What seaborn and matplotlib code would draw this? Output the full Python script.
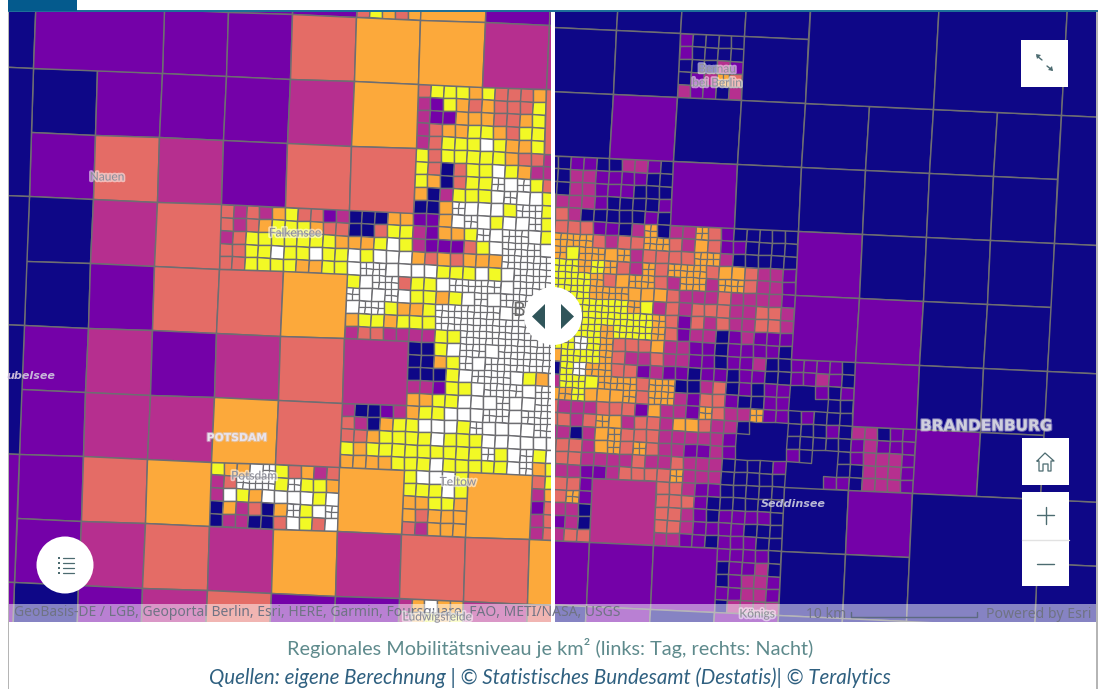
import numpy as np
import matplotlib
matplotlib.use("Agg")
import matplotlib.pyplot as plt
import matplotlib.patheffects as pe
from matplotlib.colors import ListedColormap, to_rgba
from matplotlib.patches import Rectangle, Circle, Polygon
from matplotlib.transforms import Affine2D
import seaborn as sns

# ---------- colour classes (mobility level, low to high) ----------
CLASSES = "npmsoyw"
CLASS_COLOURS = ["#0e0787", "#7401a8", "#b62f8f", "#e46c66", "#fca93b", "#f2f925", "#ffffff"]
GRID = "#6e6e72"

# ---------- left panel (day) ----------
# rows v=-3..7, columns u=-2..8; '.' = split into 5x5, '_' = inside a double cell
LEFT_COARSE = [
    "____ppp.opp",
    "____ppsoomm",
    "__npppmo..s",
    "__psmpss...",
    "__nms......",
    "__npsso....",
    "__pmpmsm...",
    "__pmmos....",
    "__pso..o.o.",
    "__pmsmomsso",
    "__npmspp.ms",
]
LEFT_DOUBLE_U = [-2, -2, -2, -2, -2, -2, 0]
LEFT_DOUBLE_V = [-3, -1, 1, 3, 5, 7, -3]
LEFT_DOUBLE_C = ["n", "n", "n", "n", "p", "p", "p"]
LEFT_FINE = {
    (5, -3): ["ooooo", "ooooo", "ooooo", "ooooo", "syoso"],
    (6, -1): ["syyyo", "mpyos", "mppoo", "msooy", "msyyy"],
    (7, -1): ["yssso", "osssy", "ossoy", "yosyy", "wyooy"],
    (8, -1): ["sssss", "sssss", "sssss", "sssss", "sssss"],
    (6, 0): ["ysyyy", "ysnsy", "yonsy", "onmyy", "nnoWw"],
    (7, 0): ["yyoss", "ywyom", "yWwWy", "ywWww", "wwyWW"],
    (8, 0): ["mmmmm", "mmmmm", "sssss", "yyyyy", "yyyyy"],
    (3, 1): ["smsmo", "smsoy", "msyyy", "ssyyw", "ssyyy"],
    (4, 1): ["ysspm", "yyoss", "yyyyo", "yywyy", "yooyy"],
    (5, 1): ["nnnoo", "nnsyy", "ooywy", "wywww", "wWWww"],
    (6, 1): ["ppowW", "mpooy", "mppps", "ososo", "wwyyy"],
    (7, 1): ["wywwW", "WwWWw", "ywWWW", "ooWWW", "wywWW"],
    (8, 1): ["yyyyy", "yyyyy", "wwwww", "WWWWW", "WWWWW"],
    (5, 2): ["ywWWs", "WwwWw", "wWWyo", "oyyoy", "mssmm"],
    (6, 2): ["yywWW", "yyoyw", "oyWWW", "yyWWW", "mmyyW"],
    (7, 2): ["WWwWW", "WwWWW", "WWwWw", "WWWWW", "WWWWW"],
    (8, 2): ["WWWWW", "WWWWW", "WWWWW", "WWWWW", "WWWWW"],
    (6, 3): ["nnywW", "nnoyW", "nnnyw", "mmpyy", "ooyyw"],
    (7, 3): ["WwWWW", "wWWWW", "WWWwy", "wWWWw", "wwWww"],
    (8, 3): ["WWWWW", "WWWWW", "owwww", "WWWWW", "WWWWW"],
    (5, 4): ["mnnpm", "smnoy", "ssoyy", "yoyyy", "ooooy"],
    (6, 4): ["oyyww", "ywwwy", "yywyy", "yyyyy", "yywyy"],
    (7, 4): ["wWWwW", "Wwwww", "ywwww", "yWywW", "yyywW"],
    (8, 4): ["WWWWW", "WWWWW", "wwwww", "ywwww", "oyyyy"],
    (3, 5): ["yoowW", "msWWW", "mwyow", "nomsn", "nmmnn"],
    (4, 5): ["ysoms", "yWyyo", "wwwyw", "oWywW", "swysw"],
    (6, 5): ["ywwwy", "yyywy", "ooyyo", "osooo", "smooo"],
    (8, 5): ["syyyy", "moooo", "pssss", "mssss", "mssss"],
    (6, 7): ["mowoo", "moyoy", "mmmmm", "mmmmm", "mmmmm"],
}

# ---------- right panel (night) ----------
# rows v=-4..6, columns u=-2..7
RIGHT_COARSE = [
    "nnnn______",
    "nn.n______",
    "npnnnnnn__",
    "..pnnnnn__",
    "....pnnn__",
    "....ppnn__",
    ".....pnn__",
    "......pn__",
    ".m..np__nn",
    "ppp.nn__nn",
    "npnpnnnnnn",
]
RIGHT_DOUBLE_U = [2, 4, 6, 6, 6, 6, 4]
RIGHT_DOUBLE_V = [-4, -4, -4, -2, 0, 2, 4]
RIGHT_DOUBLE_C = ["n", "n", "n", "n", "n", "n", "n"]
# a blank marks an area with no inner lines
RIGHT_FINE = {
    (0, -3): ["pnnnn", "pnnnn", "nnnmp", "npmOs", "mppnm"],
    (-2, -1): ["nnppn", "nnmmp", "nnmmp", "mmmmp", "ssmnn"],
    (-1, -1): ["nmmpn", "pppnn", "ppnnn", "nnnnp", "nnnpn"],
    (-2, 0): ["ssssp", "OOOOs", "OOyOO", "YYYOY", "YYYYO"],
    (-1, 0): ["pnmOn", "mssOO", "oOmss", "OsmOs", "soOOs"],
    (0, 0): ["mmOsp", "smosp", "ssOOm", "OOOso", "mOOmO"],
    (1, 0): ["nnnnn", "pnnnn", "nnnnn", "osmmp", "Osmmp"],
    (-2, 1): ["YYYYO", "YYYYY", "YYYYY", "YYYYY", "YYYWY"],
    (-1, 1): ["OOooo", "YYOym", "YYYYO", "OYYYO", "Ossso"],
    (0, 1): ["smmms", "smsss", "spsms", "spmmn", "mmppn"],
    (1, 1): ["mmmmp", "mmssm", "mmssm", "pmppp", "ppppn"],
    (-2, 2): ["ooYYY", "nnYWO", "mmYYy", "ooOYo", "ssmmm"],
    (-1, 2): ["Osmms", "Osspm", "OOOsO", "ooOsO", "ssspo"],
    (0, 2): ["mmppn", "ppnpp", "Onnms", "Ompss", "mmpOs"],
    (1, 2): ["ppmnn", "nppnn", "npnpp", "pnnpp", "mmOpp"],
    (2, 2): ["ppppn", "ppmpn", "  pnp", "   nn", "npnnn"],
    (-2, 3): ["sssms", "mmmnm", "ssssm", "ssssm", "mmmmp"],
    (-1, 3): ["Oomss", "oOsss", "oOsOs", "mmmsm", "pmsss"],
    (0, 3): ["moosm", "mmmmm", "mmppm", "msmmm", "sOmmm"],
    (1, 3): ["mn   ", "p    ", "p    ", "nnnnp", "nnnnn"],
    (2, 3): ["nnnpn", "nnnnn", "pn  n", "    n", "   pp"],
    (3, 3): ["mmnpp", "pmppp", "pmmmp", "nmmmp", "nmmmp"],
    (-2, 4): ["ssssp", "sssOp", "mmmmn", "pppmn", "mmmss"],
    (0, 4): ["ssmpp", "ssspn", "ssmpn", "ssmpp", "mmppn"],
    (1, 4): ["nnnnn", "nnnnn", "ppppn", "ppnnn", "pppnn"],
    (1, 5): ["ppppn", "nppmn", "npmmp", "ppmmp", "nmmmm"],
}

# ---------- texts ----------
CAPTION = "Regionales Mobilitätsniveau je km² (links: Tag, rechts: Nacht)"
SOURCE = "Quellen: eigene Berechnung | © Statistisches Bundesamt (Destatis)| © Teralytics"
ATTRIBUTION = "GeoBasis-DE / LGB, Geoportal Berlin, Esri, HERE, Garmin, Foursquare, FAO, METI/NASA, USGS"
PLACE_NAMES = ["Nauen", "Falkensee", "Potsdam", "Teltow", "Ludwigsfelde", "Königs"]
PLACE_X = [107, 295, 254, 458, 437, 757]
PLACE_Y = [177, 233, 476, 482, 617, 614]

sns.set_theme(style="white")
plt.rcParams["font.family"] = ["Lato", "DejaVu Sans"]
NOTO = ["Noto Sans", "DejaVu Sans"]
DEJA = ["DejaVu Sans"]

W, H = 1101, 689
fig = plt.figure(figsize=(W / 100, H / 100), dpi=100, facecolor="white")
cmap = ListedColormap(CLASS_COLOURS)
cmap.set_bad((0, 0, 0, 0))
code = {c: i for i, c in enumerate(CLASSES)}


def level(ax, data, cell, u0, v0, origin, e1, e2, lw):
    """Draw one quadtree level as a seaborn heatmap, tilted to the map's grid."""
    mask = np.isnan(data)
    sns.heatmap(data, mask=mask, cmap=cmap, vmin=-0.5, vmax=6.5, cbar=False,
                xticklabels=False, yticklabels=False, linewidths=lw,
                linecolor=GRID, antialiased=True, ax=ax)
    mesh = ax.collections[-1]
    edges = np.tile(to_rgba(GRID), (data.size, 1))
    edges[mask.ravel(), 3] = 0
    mesh.set_edgecolor(edges)
    a, b = e1[0] * cell, e1[1] * cell
    c, d = e2[0] * cell, e2[1] * cell
    e = origin[0] + u0 * e1[0] + v0 * e2[0]
    f = origin[1] + u0 * e1[1] + v0 * e2[1]
    mesh.set_transform(Affine2D.from_values(a, b, c, d, e, f) + ax.transData)


def panel(rect_px, coarse, u0, v0, fine, du, dv, dc, origin, e1, e2):
    x0, y0, x1, y1 = rect_px
    ax = fig.add_axes([x0 / W, 1 - y1 / H, (x1 - x0) / W, (y1 - y0) / H])
    rows, cols = len(coarse), len(coarse[0])
    lv0 = np.full((rows, cols), np.nan)
    lv1 = np.full((rows * 5, cols * 5), np.nan)
    lv2 = np.full((rows * 10, cols * 10), np.nan)
    for j, row in enumerate(coarse):
        for i, ch in enumerate(row):
            if ch in code:
                lv0[j, i] = code[ch]
    for (u, v), block in fine.items():
        i, j = u - u0, v - v0
        for r, row in enumerate(block):
            for q, ch in enumerate(row):
                if ch == " ":
                    continue
                if ch.isupper():
                    lv2[(j * 5 + r) * 2:(j * 5 + r) * 2 + 2,
                        (i * 5 + q) * 2:(i * 5 + q) * 2 + 2] = code[ch.lower()]
                else:
                    lv1[j * 5 + r, i * 5 + q] = code[ch]
    xu0, xv0 = min(du), min(dv)
    xl = np.full(((max(dv) - xv0) // 2 + 1, (max(du) - xu0) // 2 + 1), np.nan)
    for u, v, c in zip(du, dv, dc):
        xl[(v - xv0) // 2, (u - xu0) // 2] = code[c]
    ax.add_patch(Rectangle((0, 0), 1, 1, transform=ax.transAxes, color=CLASS_COLOURS[0], lw=0, zorder=0))
    level(ax, lv2, 0.1, u0, v0, origin, e1, e2, 0.85)
    level(ax, lv1, 0.2, u0, v0, origin, e1, e2, 1.0)
    level(ax, lv0, 1.0, u0, v0, origin, e1, e2, 1.05)
    level(ax, xl, 2.0, xu0, xv0, origin, e1, e2, 1.05)
    ax.set_xlim(x0, x1)
    ax.set_ylim(y1, y0)
    ax.set_axis_off()
    return ax


panel((9, 12, 551, 622), LEFT_COARSE, -2, -3, LEFT_FINE,
      LEFT_DOUBLE_U, LEFT_DOUBLE_V, LEFT_DOUBLE_C, (31, 132), (64.1, 2.7), (-2.4, 64.3))
panel((555, 12, 1096, 622), RIGHT_COARSE, -2, -4, RIGHT_FINE,
      RIGHT_DOUBLE_U, RIGHT_DOUBLE_V, RIGHT_DOUBLE_C, (670, 225), (64.0, 3.0), (-3.4, 64.0))

# ---------- overlay in pixel coordinates ----------
ov = fig.add_axes([0, 0, 1, 1], facecolor="none", zorder=5)
ov.set_xlim(0, W)
ov.set_ylim(H, 0)
ov.set_axis_off()

# frame, top rule and tab
ov.add_patch(Rectangle((7.5, 12), 1.5, H - 12, color="#b5b5b5", lw=0))
ov.add_patch(Rectangle((1096, 12), 1.5, H - 12, color="#b5b5b5", lw=0))
ov.add_patch(Rectangle((8, 9.5), 1090, 2.2, color="#1d6f98", lw=0))
ov.add_patch(Rectangle((8, 0), 69, 11, color="#045a8d", lw=0))

# attribution band
ov.add_patch(Rectangle((9, 604), 1087, 18, color="white", alpha=0.5, lw=0))
ov.text(14, 613, ATTRIBUTION, fontsize=10.0, color="#6f7384", va="center", ha="left", family=NOTO)
ov.text(806, 614, "10 km", fontsize=10.1, color="#6f7384", va="center", family=NOTO)
ov.plot([851, 851, 977, 977], [612, 617, 617, 612], color="#5d6a80", lw=1.0)
ov.text(1091, 614, "Powered by Esri", fontsize=10.1, color="#6f7384", va="center", ha="right", family=NOTO)

# place names
halo = [pe.withStroke(linewidth=2.5, foreground="white", alpha=0.55)]
for name, x, y in zip(PLACE_NAMES, PLACE_X, PLACE_Y):
    ov.text(x, y, name, fontsize=8.6, color="#8d8d98", ha="center", va="center", path_effects=halo)
ov.text(717, 69, "Bernau", fontsize=8.6, color="#8d8d98", ha="center", va="center", path_effects=halo)
ov.text(717, 83, "bei Berlin", fontsize=8.6, color="#8d8d98", ha="center", va="center", path_effects=halo)
soft = [pe.withStroke(linewidth=1.6, foreground="#d8d3e0", alpha=0.5)]
ov.text(237, 438, "POTSDAM", fontsize=7.8, color="#e9e4ee", ha="center", va="center",
        weight="bold", family=DEJA, path_effects=soft)
ov.text(986, 426, "BRANDENBURG", fontsize=11.0, color="#cfcfde", ha="center", va="center",
        weight="bold", family=DEJA, path_effects=soft)
ov.text(793, 504, "Seddinsee", fontsize=8.0, color="#b9b9d6", ha="center", va="center",
        style="italic", weight="bold", family=DEJA)
ov.text(31, 376, "ubelsee", fontsize=8.0, color="#c7b7d9", ha="center", va="center",
        style="italic", weight="bold", family=DEJA)
ov.text(519, 310, "B", fontsize=14, color="#6c6c6c", ha="center", va="center")

# swipe divider and handle
ov.add_patch(Rectangle((551, 12), 4, 610, color="white", lw=0))
ov.add_patch(Circle((553, 316), 29, color="white", lw=0))
HANDLE = "#30555a"
ov.add_patch(Polygon([[545, 304], [545, 329], [532, 316.5]], color=HANDLE, lw=0))
ov.add_patch(Polygon([[561, 304], [561, 329], [574, 316.5]], color=HANDLE, lw=0))

# widgets
for x, y, w, h in [(1021, 40, 47, 47), (1022, 438, 47, 47), (1022, 492, 47, 94)]:
    ov.add_patch(Rectangle((x, y), w, h, color="white", lw=0))
ov.plot([1022, 1069], [540, 540], color="#e2e2e2", lw=1)
ICON = "#4c6b70"
ov.plot([1037, 1042], [56, 60], color=ICON, lw=1)
ov.plot([1047, 1052], [66, 70], color=ICON, lw=1)
ov.add_patch(Polygon([[1036, 54], [1041, 55], [1037, 59]], color=ICON, lw=0))
ov.add_patch(Polygon([[1053, 71], [1048, 70], [1052, 66]], color=ICON, lw=0))
ov.plot([1037, 1045, 1054, 1051, 1051, 1048, 1048, 1043, 1043, 1039, 1039, 1037],
        [461, 453, 461, 461, 471, 471, 464, 464, 471, 471, 461, 461], color=ICON, lw=0.9)
ov.plot([1037, 1054], [515, 515], color=ICON, lw=1)
ov.plot([1045.5, 1045.5], [507, 524], color=ICON, lw=1)
ov.plot([1037, 1054], [564, 564], color=ICON, lw=1)

# legend button
ov.add_patch(Circle((65, 565), 28.5, color="white", lw=0))
for y in [558, 563, 568, 573]:
    ov.plot([62.5, 74], [y, y], color=ICON, lw=0.9)
    ov.add_patch(Rectangle((57.5, y - 1.3), 2.6, 2.6, color=ICON, lw=0))

# caption
ov.text(550, 648, CAPTION, fontsize=14.3, color="#5e8a8c", ha="center", va="center")
ov.text(550, 678, SOURCE, fontsize=14.8, color="#2f6080", ha="center", va="center", style="italic")

fig.savefig("out.png", dpi=100, facecolor="white")
